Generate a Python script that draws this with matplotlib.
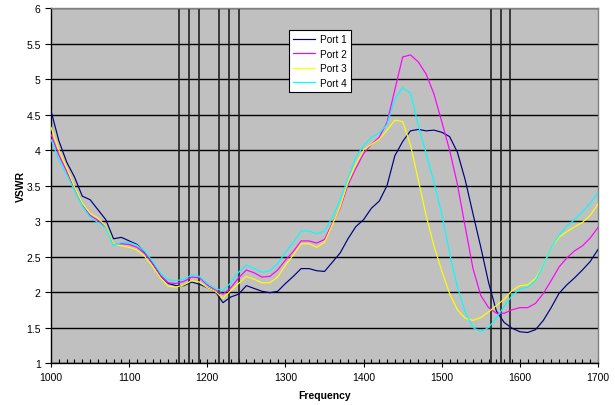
import numpy as np
import matplotlib
matplotlib.use("Agg")
import matplotlib.pyplot as plt
from matplotlib.ticker import MultipleLocator

matplotlib.rcParams['font.family'] = ['Liberation Sans', 'DejaVu Sans']

# frequency grid (MHz)
freq = np.arange(1000, 1701, 10)

port1 = [4.55, 4.13, 3.83, 3.62, 3.35, 3.30, 3.16, 3.02, 2.75, 2.77,
         2.72, 2.67, 2.56, 2.40, 2.23, 2.12, 2.09, 2.09, 2.14, 2.11,
         2.06, 2.01, 1.85, 1.93, 1.97, 2.09, 2.05, 2.01, 1.99, 2.01,
         2.12, 2.22, 2.33, 2.33, 2.30, 2.29, 2.42, 2.55, 2.75, 2.92,
         3.02, 3.18, 3.28, 3.50, 3.92, 4.12, 4.27, 4.29, 4.27, 4.28,
         4.25, 4.19, 3.97, 3.58, 3.10, 2.63, 2.13, 1.73, 1.57, 1.49,
         1.44, 1.43, 1.47, 1.60, 1.78, 1.98, 2.10, 2.20, 2.31, 2.43,
         2.60]

port2 = [4.22, 3.93, 3.70, 3.46, 3.23, 3.08, 3.01, 2.92, 2.67, 2.68,
         2.67, 2.63, 2.54, 2.40, 2.23, 2.13, 2.12, 2.15, 2.21, 2.20,
         2.10, 2.03, 1.97, 2.06, 2.20, 2.31, 2.27, 2.21, 2.22, 2.31,
         2.45, 2.57, 2.72, 2.72, 2.69, 2.74, 2.97, 3.18, 3.51, 3.74,
         3.95, 4.08, 4.18, 4.39, 4.85, 5.31, 5.34, 5.24, 5.07, 4.79,
         4.40, 4.00, 3.52, 2.92, 2.33, 1.95, 1.78, 1.70, 1.70, 1.75,
         1.78, 1.78, 1.84, 1.98, 2.16, 2.35, 2.48, 2.58, 2.65, 2.76,
         2.91]

port3 = [4.32, 4.00, 3.75, 3.48, 3.25, 3.11, 3.04, 2.93, 2.68, 2.65,
         2.63, 2.59, 2.50, 2.36, 2.20, 2.08, 2.07, 2.10, 2.16, 2.14,
         2.06, 2.01, 1.91, 2.02, 2.12, 2.22, 2.18, 2.13, 2.13, 2.21,
         2.38, 2.52, 2.68, 2.68, 2.63, 2.70, 2.95, 3.20, 3.55, 3.80,
         4.00, 4.08, 4.15, 4.28, 4.42, 4.40, 4.07, 3.58, 3.08, 2.65,
         2.30, 1.98, 1.75, 1.63, 1.60, 1.64, 1.72, 1.81, 1.90, 2.02,
         2.09, 2.10, 2.19, 2.38, 2.62, 2.77, 2.85, 2.92, 2.98, 3.08,
         3.24]

port4 = [4.15, 3.86, 3.65, 3.43, 3.21, 3.05, 2.98, 2.90, 2.65, 2.70,
         2.70, 2.66, 2.57, 2.43, 2.27, 2.17, 2.16, 2.18, 2.24, 2.22,
         2.12, 2.05, 2.02, 2.13, 2.28, 2.38, 2.33, 2.28, 2.30, 2.40,
         2.56, 2.70, 2.86, 2.86, 2.82, 2.86, 3.05, 3.30, 3.60, 3.90,
         4.06, 4.18, 4.24, 4.36, 4.72, 4.88, 4.80, 4.35, 3.95, 3.55,
         3.10, 2.55, 2.07, 1.72, 1.50, 1.44, 1.50, 1.64, 1.80, 1.95,
         2.04, 2.07, 2.16, 2.38, 2.62, 2.80, 2.93, 3.02, 3.13, 3.25,
         3.40]

names = ['Port 1', 'Port 2', 'Port 3', 'Port 4']
colors = ['#000080', '#FF00FF', '#FFFF00', '#00FFFF']

# GNSS band markers (MHz)
bands = [1164, 1176.45, 1189, 1215, 1227.6, 1240, 1563, 1575.42, 1587]

fig = plt.figure(figsize=(6.15, 4.06), dpi=100)
ax = fig.add_axes([0.083, 0.1034, 0.8894, 0.8744])
ax.set_facecolor('#C0C0C0')

for b in bands:
    ax.axvline(b, color='#222222', linewidth=1.2, zorder=1)

for vals, name, c in zip([port1, port2, port3, port4], names, colors):
    ax.plot(freq, vals, color=c, linewidth=0.85, label=name, zorder=3)

ax.set_xlim(1000, 1700)
ax.set_ylim(1, 6)
ax.xaxis.set_major_locator(MultipleLocator(100))
ax.xaxis.set_minor_locator(MultipleLocator(10))
ax.set_yticks(np.arange(1, 6.01, 0.5))
ax.set_yticklabels(['1', '1.5', '2', '2.5', '3', '3.5', '4', '4.5', '5', '5.5', '6'])
ax.grid(axis='y', color='black', linewidth=1.0, zorder=0)
ax.set_axisbelow(True)

ax.tick_params(axis='x', which='major', direction='inout', length=6, labelsize=7.5, width=0.8)
ax.tick_params(axis='x', which='minor', direction='in', length=3, width=0.8)
ax.tick_params(axis='y', which='major', direction='out', length=4, labelsize=7.5, width=0.8)

for s in ax.spines.values():
    s.set_color('black')
    s.set_linewidth(1.0)
ax.spines['top'].set_color('#808080')
ax.spines['right'].set_color('#808080')

ax.set_xlabel('Frequency', fontsize=7.5, fontweight='bold', labelpad=6)
ax.set_ylabel('VSWR', fontsize=7.5, fontweight='bold', labelpad=0)

leg = ax.legend(loc='upper left', bbox_to_anchor=(0.426, 0.951), fontsize=7.2,
                frameon=True, fancybox=False, handlelength=2.2,
                borderpad=0.4, labelspacing=0.45, handletextpad=0.5)
leg.get_frame().set_edgecolor('black')
leg.get_frame().set_linewidth(0.8)
leg.get_frame().set_facecolor('white')
leg.get_frame().set_alpha(1)

plt.savefig('out.png', dpi=100)
